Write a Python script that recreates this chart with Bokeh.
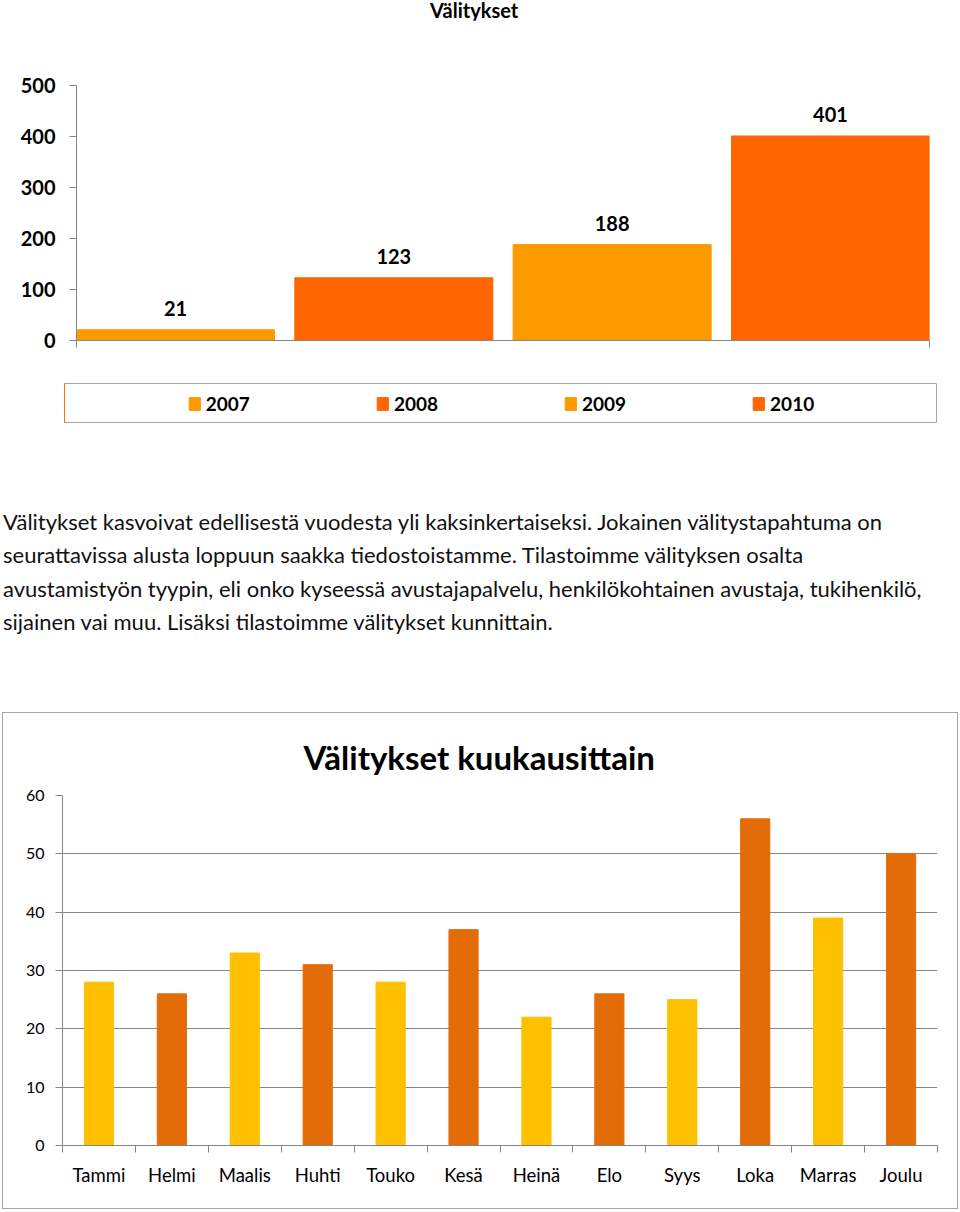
from bokeh.plotting import figure
from bokeh.models import (ColumnDataSource, LabelSet, Legend, LegendItem,
                          FixedTicker, Div, Range1d)
from bokeh.layouts import column
from bokeh.embed import file_html
from bokeh.resources import INLINE
from bokeh.core.properties import value

# ---------------- data ----------------
years = ["2007", "2008", "2009", "2010"]
yearly_counts = [21, 123, 188, 401]
year_colors = ["#FF9900", "#FF6600", "#FF9900", "#FF6600"]
top_ticks = [0, 100, 200, 300, 400, 500]

months = ["Tammi", "Helmi", "Maalis", "Huhti", "Touko", "Kesä",
          "Heinä", "Elo", "Syys", "Loka", "Marras", "Joulu"]
monthly_counts = [28, 26, 33, 31, 28, 37, 22, 26, 25, 56, 39, 50]
month_colors = ["#FFC000", "#E36C09"] * 6
bottom_ticks = [0, 10, 20, 30, 40, 50, 60]

top_title = "Välitykset"
bottom_title = "Välitykset kuukausittain"
paragraph_lines = [
    "Välitykset kasvoivat edellisestä vuodesta yli kaksinkertaiseksi. Jokainen välitystapahtuma on",
    "seurattavissa alusta loppuun saakka tiedostoistamme. Tilastoimme välityksen osalta",
    "avustamistyön tyypin, eli onko kyseessä avustajapalvelu, henkilökohtainen avustaja, tukihenkilö,",
    "sijainen vai muu. Lisäksi tilastoimme välitykset kunnittain.",
]

FONT = "Lato"
AXIS_GRAY = "#868686"

# ---------------- top title ----------------
title_div = Div(text=top_title, width=120, height=20, margin=(0, 0, 0, 430),
                styles={"font-family": FONT, "font-size": "20px",
                        "font-weight": "bold", "line-height": "20px",
                        "color": "#000000", "white-space": "nowrap"})

# ---------------- top chart ----------------
x1 = list(range(len(years)))
src1 = ColumnDataSource(dict(x=x1, year=years, count=yearly_counts,
                             color=year_colors,
                             label=[str(v) for v in yearly_counts]))

BW1 = 0.907
p1 = figure(width=950, height=332,
            x_range=Range1d(-BW1 / 2, len(years) - 1 + BW1 / 2),
            y_range=Range1d(0, 500),
            output_backend="svg", toolbar_location=None,
            min_border_left=76, min_border_right=21,
            min_border_top=65, min_border_bottom=12)
p1.outline_line_color = None
p1.grid.visible = False

p1.vbar(x="x", top="count", width=BW1, color="color", source=src1)
p1.add_layout(LabelSet(x="x", y="count", text="label", source=src1,
                       text_align="center", text_baseline="bottom",
                       y_offset=14, text_font=value(FONT),
                       text_font_style="bold", text_font_size="20px",
                       text_color="#000000"))

ya = p1.yaxis[0]
ya.ticker = FixedTicker(ticks=top_ticks)
ya.axis_line_color = AXIS_GRAY
ya.major_tick_line_color = AXIS_GRAY
ya.major_tick_out = 7
ya.major_tick_in = 0
ya.minor_tick_line_color = None
ya.major_label_standoff = 14
ya.major_label_text_font = FONT
ya.major_label_text_font_style = "bold"
ya.major_label_text_font_size = "20px"
ya.major_label_text_color = "#000000"

xa = p1.xaxis[0]
xa.ticker = FixedTicker(ticks=[], minor_ticks=[-BW1 / 2, len(years) - 1 + BW1 / 2])
xa.axis_line_color = AXIS_GRAY
xa.minor_tick_line_color = AXIS_GRAY
xa.minor_tick_out = 7
xa.minor_tick_in = 0
xa.major_tick_line_color = None
xa.major_label_text_font_size = "0px"
xa.major_label_standoff = 0

# ---------------- legend box ----------------
pl = figure(width=873, height=40,
            x_range=Range1d(100, 101), y_range=Range1d(100, 101),
            x_axis_type=None, y_axis_type=None,
            output_backend="svg", toolbar_location=None, min_border=0,
            margin=(31, 0, 0, 64))
pl.grid.visible = False
pl.outline_line_color = "#A6A6A6"
legend_renderer = pl.vbar(x="x", top="count", width=BW1, color="color",
                          source=src1)
items = [LegendItem(label=yr, renderers=[legend_renderer], index=i)
         for i, yr in enumerate(years)]
legend = Legend(items=items, orientation="horizontal", location="center",
                border_line_color=None, background_fill_alpha=0,
                spacing=125, label_width=44, glyph_width=14, glyph_height=16,
                label_standoff=5, padding=0, margin=0,
                label_text_font=FONT, label_text_font_style="bold",
                label_text_font_size="19px", label_text_color="#000000")
pl.add_layout(legend)

# ---------------- paragraph ----------------
para = Div(text="<br>".join(paragraph_lines), width=950, height=134,
           margin=(82, 0, 0, 3),
           styles={"font-family": FONT, "font-size": "22px",
                   "line-height": "33.4px", "color": "#111111",
                   "white-space": "nowrap"})

# ---------------- bottom chart ----------------
x2 = list(range(len(months)))
src2 = ColumnDataSource(dict(x=x2, month=months, count=monthly_counts,
                             color=month_colors))

p2 = figure(width=956, height=497,
            x_range=Range1d(-0.5, len(months) - 0.5), y_range=Range1d(0, 60),
            output_backend="svg", toolbar_location=None,
            min_border_left=59, min_border_right=22,
            min_border_top=82, min_border_bottom=65,
            margin=(73, 0, 0, 2))
p2.styles = {"border": "1.5px solid #A6A6A6", "box-sizing": "border-box"}
p2.title.text = bottom_title
p2.title.align = "left"
p2.title.offset = 241
p2.title.standoff = 38
p2.title.text_font = FONT
p2.title.text_font_size = "33px"
p2.title.text_font_style = "bold"
p2.title.text_color = "#000000"
p2.outline_line_color = None
p2.xgrid.visible = False
p2.ygrid.ticker = FixedTicker(ticks=bottom_ticks)
p2.ygrid.grid_line_color = AXIS_GRAY

p2.vbar(x="x", top="count", width=0.4, color="color", source=src2)

ya2 = p2.yaxis[0]
ya2.ticker = FixedTicker(ticks=bottom_ticks)
ya2.axis_line_color = AXIS_GRAY
ya2.major_tick_line_color = AXIS_GRAY
ya2.major_tick_out = 7
ya2.major_tick_in = 0
ya2.minor_tick_line_color = None
ya2.major_label_standoff = 11
ya2.major_label_text_font = FONT
ya2.major_label_text_font_size = "16px"
ya2.major_label_text_color = "#000000"

xa2 = p2.xaxis[0]
xa2.ticker = FixedTicker(ticks=x2,
                         minor_ticks=[i - 0.5 for i in range(len(months) + 1)])
xa2.major_label_overrides = {i: m for i, m in zip(x2, months)}
xa2.axis_line_color = AXIS_GRAY
xa2.major_tick_line_color = None
xa2.major_tick_out = 0
xa2.major_tick_in = 0
xa2.minor_tick_line_color = AXIS_GRAY
xa2.minor_tick_out = 7
xa2.minor_tick_in = 0
xa2.major_label_standoff = 11
xa2.major_label_text_font = FONT
xa2.major_label_text_font_size = "18.5px"
xa2.major_label_text_color = "#000000"

# wrap each plot separately so that the column does not align plot borders
layout = column(title_div, column(p1), column(pl), para, column(p2), spacing=0)

with open("out.html", "w", encoding="utf-8") as f:
    f.write(file_html(layout, INLINE, title="Välitykset"))
